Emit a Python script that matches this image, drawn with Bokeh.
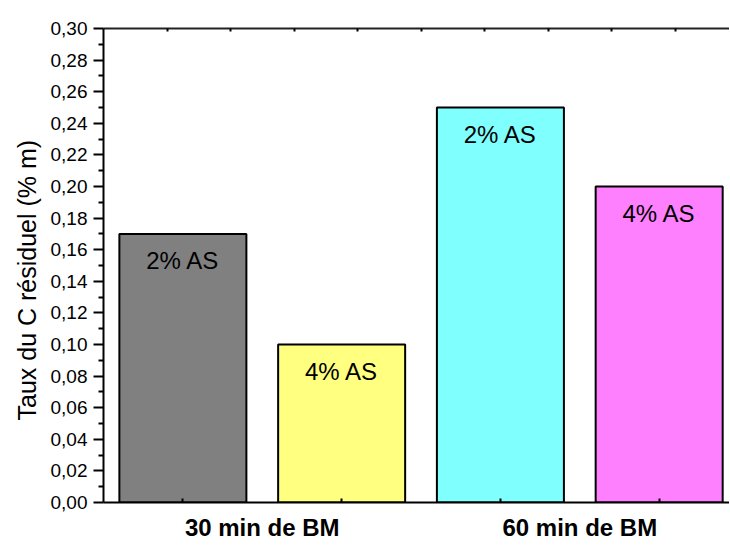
from bokeh.plotting import figure
from bokeh.models import (Range1d, LinearAxis, FixedTicker, CustomJSTickFormatter,
                          ColumnDataSource, Title)
from bokeh.core.properties import value
from bokeh.embed import file_html
from bokeh.resources import INLINE

# ---- data ----
groups = ["30 min de BM", "60 min de BM"]
additives = ["2% AS", "4% AS", "2% AS", "4% AS"]
residual_c = [0.17, 0.10, 0.25, 0.20]
bar_colors = ["#808080", "#FFFF80", "#80FFFF", "#FF80FF"]
y_major = [0.00, 0.02, 0.04, 0.06, 0.08, 0.10, 0.12, 0.14, 0.16, 0.18, 0.20,
           0.22, 0.24, 0.26, 0.28, 0.30]
y_minor = [0.01, 0.03, 0.05, 0.07, 0.09, 0.11, 0.13, 0.15, 0.17, 0.19, 0.21,
           0.23, 0.25, 0.27, 0.29]
top_ticks = [0.9, 1.3, 1.7, 2.1, 2.5, 2.9, 3.3, 3.7, 4.1]
y_title = "Taux du C résiduel (% m)"

FONT = "Liberation Sans"

xpos = [i + 1 for i in range(len(residual_c))]
group_pos = [1.5 + 2 * i for i in range(len(groups))]

src = ColumnDataSource(dict(x=xpos, top=residual_c, color=bar_colors, label=additives))

W, H = 729, 544
p = figure(width=W, height=H, x_range=Range1d(0.5, 4.443), y_range=Range1d(0, 0.30),
           output_backend="svg", toolbar_location=None,
           x_axis_type=None, y_axis_type=None,
           min_border_left=103, min_border_right=0, min_border_top=28, min_border_bottom=42)
p.outline_line_color = None
p.background_fill_color = "white"
p.border_fill_color = "white"

# left axis
yaxis = LinearAxis(ticker=FixedTicker(ticks=y_major, minor_ticks=y_minor),
                   formatter=CustomJSTickFormatter(code="return tick.toFixed(2).replace('.', ',');"))
yaxis.axis_line_width = 2
yaxis.axis_line_color = "black"
yaxis.major_tick_line_width = 2
yaxis.minor_tick_line_width = 2
yaxis.major_tick_in = 0
yaxis.major_tick_out = 10
yaxis.minor_tick_in = 0
yaxis.minor_tick_out = 5
yaxis.major_label_standoff = 6
yaxis.major_label_text_font = FONT
yaxis.major_label_text_font_size = "19px"
yaxis.major_label_text_color = "black"
p.add_layout(yaxis, "left")

# y title in the left panel, starting a little above the frame bottom
p.add_layout(Title(text=y_title, align="left", offset=82, standoff=13,
                   text_font=FONT, text_font_size="25px", text_font_style="normal",
                   text_color="black"), "left")

# bottom axis
xaxis = LinearAxis(ticker=FixedTicker(ticks=group_pos, minor_ticks=xpos),
                   major_label_overrides={gp: g for gp, g in zip(group_pos, groups)})
xaxis.axis_line_width = 2
xaxis.axis_line_color = "black"
xaxis.major_tick_line_color = None
xaxis.major_tick_in = 0
xaxis.major_tick_out = 0
xaxis.minor_tick_in = 4
xaxis.minor_tick_out = 0
xaxis.minor_tick_line_width = 2
xaxis.major_label_standoff = 11
xaxis.major_label_text_font = FONT
xaxis.major_label_text_font_size = "24px"
xaxis.major_label_text_font_style = "bold"
xaxis.major_label_text_color = "black"
p.add_layout(xaxis, "below")

# top axis (line with small ticks, no labels)
taxis = LinearAxis(ticker=FixedTicker(ticks=top_ticks, minor_ticks=[]))
taxis.axis_line_width = 2
taxis.axis_line_color = "#222222"
taxis.major_tick_in = 3
taxis.major_tick_out = 0
taxis.major_tick_line_width = 2
taxis.major_label_text_color = None
taxis.major_label_text_font_size = "1px"
p.add_layout(taxis, "above")

p.vbar(x="x", top="top", bottom=0, width=0.8, source=src,
       fill_color="color", line_color="black", line_width=2)

p.text(x="x", y="top", text="label", source=src, text_align="center",
       text_baseline="middle", y_offset=27, text_color="black",
       text_font=value(FONT), text_font_size="24px")

open("out.html", "w").write(file_html(p, INLINE))
